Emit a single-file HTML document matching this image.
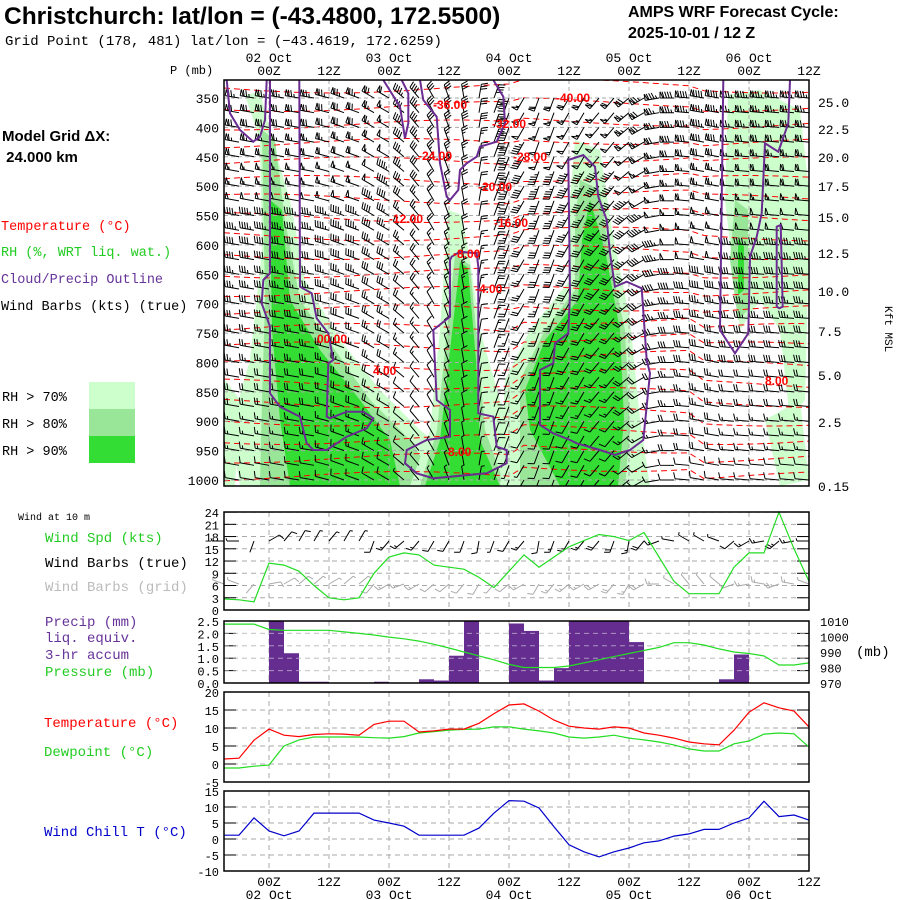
<!DOCTYPE html>
<html><head><meta charset="utf-8">
<style>
body{margin:0;background:#fff;width:900px;height:900px;overflow:hidden}
svg{display:block}
text{font-family:"Liberation Mono",monospace}
</style></head>
<body>
<svg id="c" width="900" height="900" viewBox="0 0 900 900" xmlns="http://www.w3.org/2000/svg">
<text x="4" y="24" style="font-family:'Liberation Sans',sans-serif;font-weight:bold;font-size:24.5px">Christchurch:  lat/lon = (-43.4800, 172.5500)</text>
<text x="5" y="45" font-size="14">Grid Point (178, 481) lat/lon = (−43.4619, 172.6259)</text>
<text x="628" y="17" style="font-family:'Liberation Sans',sans-serif;font-weight:bold;font-size:16px">AMPS WRF Forecast Cycle:</text>
<text x="628" y="38" style="font-family:'Liberation Sans',sans-serif;font-weight:bold;font-size:16px">2025-10-01 / 12  Z</text>
<text x="170" y="74" font-size="12">P (mb)</text>
<text x="2" y="141" style="font-family:'Liberation Sans',sans-serif;font-weight:bold;font-size:15px">Model Grid ΔX:</text>
<text x="2" y="162" style="font-family:'Liberation Sans',sans-serif;font-weight:bold;font-size:15px">&#160;24.000 km</text>
<text x="1" y="230" font-size="13.5" fill="#ff0000">Temperature (°C)</text>
<text x="1" y="256" font-size="13.5" fill="#22cc22">RH (%, WRT liq. wat.)</text>
<text x="1" y="283" font-size="13.5" fill="#663399">Cloud/Precip Outline</text>
<text x="1" y="310" font-size="13.5" fill="#000">Wind Barbs (kts) (true)</text>
<rect x="89" y="382" width="46" height="27" fill="#ccffcc"/>
<rect x="89" y="409" width="46" height="27" fill="#99e699"/>
<rect x="89" y="436" width="46" height="27" fill="#33dd33"/>
<text x="2" y="401" font-size="13.5">RH &gt; 70%</text>
<text x="2" y="428" font-size="13.5">RH &gt; 80%</text>
<text x="2" y="455" font-size="13.5">RH &gt; 90%</text>
<text x="18" y="520" font-size="10">Wind at 10 m</text>
<text x="45" y="542" font-size="14" fill="#22cc22">Wind Spd (kts)</text>
<text x="45" y="567" font-size="14" fill="#000">Wind Barbs (true)</text>
<text x="45" y="591" font-size="14" fill="#bbbbbb">Wind Barbs (grid)</text>
<text x="45" y="626" font-size="14" fill="#663399">Precip (mm)</text>
<text x="45" y="642" font-size="14" fill="#663399">liq. equiv.</text>
<text x="45" y="659" font-size="14" fill="#663399">3-hr accum</text>
<text x="45" y="676" font-size="14" fill="#22cc22">Pressure (mb)</text>
<text x="856" y="656" font-size="14">(mb)</text>
<text x="44" y="727" font-size="14" fill="#ff0000">Temperature (°C)</text>
<text x="44" y="756" font-size="14" fill="#22cc22">Dewpoint (°C)</text>
<text x="44" y="836" font-size="14" fill="#0000cc">Wind Chill T (°C)</text>
<text x="0" y="0" font-size="11" transform="translate(885,306) rotate(90)">Kft MSL</text>
<g id="g"></g>
</svg>
<script>
// ---- data ----
const hours = []; for (let i=0;i<40;i++) hours.push(i*3); // hours since 01 Oct 15Z
const windSpd = [2.7,2.5,2,11.5,11,9.5,6,3,2.5,3,9,13,14,13.5,11,10.5,10,8,5.5,9.5,13.5,10.5,13,15.5,17,18.5,18,17,19,13,7,4,4,4,10.5,14,14,24,15,7];
const precip = [0,0,0,2.5,1.2,0.05,0.05,0,0,0,0.05,0,0,0.15,0.1,1.1,2.5,0,0,2.4,2.1,0.1,0.6,2.5,2.5,2.5,2.5,1.65,0,0,0,0,0,0.15,1.15,0,0,0,0];
const pressure = [1008,1008,1008,1004.5,1004,1004,1004,1004,1003,1002,1001,999.6,998.5,997,995,992.6,990,987.5,985,982,980,980,980,981,983,985,987,989,991,993,996,996,994.5,992,990,989,987.5,981.6,981.6,983];
const temp2m = [1.4,1.6,6.6,9.7,8,7.6,8.2,8.4,8.3,8,11,11.9,11.9,8.9,9.2,9.7,9.7,11.3,14,16.4,16.7,14.7,12.2,10.5,10,9.7,10.3,10,8.6,8,7.2,6.1,5.6,5.3,9.4,14.4,17,15.6,14.7,10.3];
const dewpt = [-1.1,-1.1,-0.6,-0.3,5,6.7,7.5,7.5,7.5,7.5,7.3,7.2,7.6,8.6,9,9.4,9.6,9.7,10.3,10.3,9.7,9.2,8.6,7.5,7.2,7.5,8,7.2,6.7,6.1,5.3,4.2,3.6,3.6,5.6,6.4,8.3,8.6,8.4,4.7];
const windChill = [1.2,1.2,6.6,2.5,1,2.5,8.1,8.1,8.1,8.1,5.9,5,4,1.2,1.2,1.2,1.2,3.4,8.1,12,11.8,9.7,3.8,-1.8,-4,-5.6,-4,-2.8,-1.2,-0.6,0.9,1.6,3,3,5,6.6,11.8,7,7.5,5.9];
const sfcDir = [270,270,200,60,40,30,30,40,30,30,200,220,230,220,210,210,200,190,200,210,220,190,200,210,220,220,200,190,220,250,280,300,300,290,230,240,260,230,260,270];
const levels = [350,375,400,425,450,475,500,525,550,575,600,625,650,675,700,725,750,775,800,825,850,875,900,925,950,975,1000];
const levSpd = [75,70,70,65,60,55,55,50,45,45,40,40,35,35,30,30,25,25,25,20,20,20,15,15,15,10,10];
const colDir = [280,280,280,280,280,280,280,285,290,290,300,300,310,320,330,340,350,10,20,200,210,200,200,210,210,220,220,230,240,260,270,275,280,280,275,275,275,275,275,275];
const colFac = [1,1,1,1,1,1,1,1,1,1,0.9,0.8,0.6,0.5,0.4,0.4,0.4,0.4,0.5,0.6,0.7,0.8,0.8,0.8,0.8,0.8,0.8,0.9,1,1.1,1.2,1.2,1.2,1.2,1.1,1.1,1.1,1.1,1.1,1.1];
const topTimes = [["02 Oct","00Z"],["","12Z"],["03 Oct","00Z"],["","12Z"],["04 Oct","00Z"],["","12Z"],["05 Oct","00Z"],["","12Z"],["06 Oct","00Z"],["","12Z"]];
const pLabels = [350,400,450,500,550,600,650,700,750,800,850,900,950,1000];
const kftLabels = [["25.0",102],["22.5",129],["20.0",157],["17.5",186],["15.0",217],["12.5",253],["10.0",291],["7.5",331],["5.0",375],["2.5",422],["0.15",486]];
const tempContourLabels = [["-40.00",556,102],["-36.00",433,109],["-32.00",492,128],["-28.00",513,161],["-24.00",418,160],["-20.00",478,191],["-16.00",494,227],["-12.00",389,223],["-8.00",453,258],["-4.00",475,293],["00.00",317,343],["4.00",373,375],["8.00",448,456],["8.00",765,385]];

const NS="http://www.w3.org/2000/svg";
const G=document.getElementById('g');
function el(t,a,p){const e=document.createElementNS(NS,t);for(const k in a)e.setAttribute(k,a[k]);(p||G).appendChild(e);return e;}
const X0=224,X1=809;
const xh=h=>X0+5*h;
const yp=p=>98+(p-350)*0.5877;
const LX=[269,329,389,449,509,569,629,689,749,809];

// ---- main panel ----
const main=el('g',{});


const cp=el('clipPath',{id:'mc'});el('rect',{x:X0,y:80,width:X1-X0,height:406},cp);
const mg=el('g',{'clip-path':'url(#mc)'},main);
function poly(pts,fill,name,par){const e=el('polygon',{points:pts.map(p=>p.join(',')).join(' '),fill:fill},par);return e;}
const L='#ccffcc',M='#99e699',D='#33dd33';
poly([[245,95],[260,92],[275,150],[290,200],[305,280],[340,340],[380,390],[420,430],[470,470],[520,486],[240,486],[230,430],[250,360],[262,250],[260,140]],L,'rh70-region-left',mg);
poly([[225,380],[240,400],[235,486],[224,486]],L,'rh70-region-edge',mg);
poly([[262,130],[275,140],[285,220],[300,300],[335,350],[370,400],[410,440],[440,486],[260,486],[262,400],[265,300]],M,'rh80-region-left',mg);
poly([[270,200],[282,210],[290,300],[320,350],[360,400],[390,440],[400,486],[290,486],[280,420],[272,330]],D,'rh90-region-left',mg);
poly([[448,210],[462,215],[470,260],[480,330],[500,400],[520,450],[530,486],[410,486],[430,430],[440,330]],L,'rh70-region-center',mg);
poly([[455,255],[470,265],[478,350],[485,430],[505,486],[420,486],[437,430],[447,330]],M,'rh80-region-center',mg);
poly([[460,262],[468,268],[476,360],[480,440],[500,486],[425,486],[440,440],[450,350]],D,'rh90-region-center',mg);
poly([[575,140],[600,150],[612,230],[630,320],[640,420],[650,486],[500,486],[505,380],[530,330],[570,280],[570,200]],L,'rh70-region-right',mg);
poly([[580,180],[600,190],[610,260],[625,330],[630,430],[625,486],[520,486],[520,380],[545,330],[575,290],[575,220]],M,'rh80-region-right',mg);
poly([[590,200],[605,250],[620,330],[624,420],[618,486],[560,486],[530,430],[525,390],[545,340],[578,300],[582,240]],D,'rh90-region-right',mg);
poly([[728,95],[760,90],[800,110],[810,200],[805,400],[790,420],[780,330],[760,300],[740,330],[725,200]],L,'rh70-region-far-right',mg);
poly([[735,200],[748,210],[748,310],[738,320],[730,260]],M,'rh80-region-far-right',mg);
poly([[738,240],[744,245],[744,290],[738,295]],D,'rh90-region-far-right',mg);
poly([[765,420],[800,400],[809,480],[780,486]],L,'rh70-region-low-right',mg);
for(let k=0;k<22;k++){
  let d='';const base=88+k*18.5;
  for(let x=X0;x<=X1;x+=15){const w=Math.sin((x-X0)/70+k*0.7)*5+((x>520&&x<700)?-(k>12?10:4):0);d+=(x===X0?'M':'L')+x+','+(base+w).toFixed(1);}
  const e=el('path',{d:d,fill:'none',stroke:'#ff0000','stroke-width':1,'stroke-dasharray':'6,4'},mg);
  
  
}
for(const p of pLabels){const e=el('line',{x1:X0,x2:X1,y1:yp(p),y2:yp(p),stroke:'#aaaaaa','stroke-dasharray':'4,3'},mg);}
for(const x of LX){const e=el('line',{x1:x,x2:x,y1:80,y2:486,stroke:'#aaaaaa','stroke-dasharray':'4,3'},mg);}
function barb(par,x,y,dir,spd,len,col,sw){
  const r=dir*Math.PI/180;const ux=Math.sin(r),uy=-Math.cos(r);
  const tx=x+ux*len,ty=y+uy*len;const px=-uy,py=ux;
  let d=`M${x},${y}L${tx.toFixed(1)},${ty.toFixed(1)}`;
  let s=Math.round(spd/5)*5,pos=0;const bl=len*0.45;
  while(s>=50){const ax=tx-ux*pos,ay=ty-uy*pos;d+=`M${ax.toFixed(1)},${ay.toFixed(1)}L${(ax+px*bl).toFixed(1)},${(ay+py*bl).toFixed(1)}L${(ax-ux*3).toFixed(1)},${(ay-uy*3).toFixed(1)}`;pos+=4;s-=50;}
  while(s>=10){const ax=tx-ux*pos,ay=ty-uy*pos;d+=`M${ax.toFixed(1)},${ay.toFixed(1)}L${(ax+px*bl+ux*2).toFixed(1)},${(ay+py*bl+uy*2).toFixed(1)}`;pos+=2.6;s-=10;}
  if(s>=5){const ax=tx-ux*pos,ay=ty-uy*pos;d+=`M${ax.toFixed(1)},${ay.toFixed(1)}L${(ax+px*bl/2+ux).toFixed(1)},${(ay+py*bl/2+uy).toFixed(1)}`;}
  const e=el('path',{d:d,fill:'none',stroke:col,'stroke-width':sw},par);
  
  
}
for(let j=0;j<levels.length;j++)for(let i=1;i<hours.length;i++){
  barb(mg,xh(hours[i]),yp(levels[j]),colDir[i],levSpd[j]*colFac[i],14,'#000',1);
}
function z4(a){return a.map(p=>[220+p[0]/3,80+p[1]/3]);}
function z5(a){return a.map(p=>[510+p[0]/3,80+p[1]/3]);}
function outline(pts,name,closed){const e=el(closed?'polygon':'polyline',{points:pts.map(p=>p[0].toFixed(1)+','+p[1].toFixed(1)).join(' '),fill:'none',stroke:'#6a2c91','stroke-width':2},mg);}
outline(z4([[150,0],[150,580],[130,600],[125,670],[150,740],[150,940],[180,980],[240,1010],[260,1090],[280,1110],[320,1110],[380,1070],[440,1045],[460,1015],[430,995],[380,995],[330,1015],[320,1010],[325,850],[340,840],[325,760],[290,715],[275,640],[240,620],[238,0]]),'cloud-outline-left',false);
outline(z4([[20,0],[30,100],[60,150],[100,185],[120,170],[135,120],[140,0]]),'cloud-outline-top-left',false);
outline(z4([[490,0],[540,80],[555,175],[565,130],[565,40],[545,0]]),'cloud-outline-top-mid',false);
outline(z4([[600,0],[610,60],[650,110],[660,250],[680,350],[690,360],[715,330],[720,270],[740,250],[770,230],[780,200],[830,185],[855,130],[850,50],[820,0]]),'cloud-outline-top',false);
outline(z4([[695,530],[720,515],[770,520],[775,560],[775,1000],[820,1010],[830,1100],[860,1110],[860,1150],[800,1180],[640,1195],[590,1180],[555,1150],[560,1110],[620,1080],[690,1070],[690,990],[650,960],[640,750],[690,710],[690,540]]),'cloud-outline-center',true);
outline(z5([[175,240],[220,225],[255,260],[265,350],[290,420],[300,520],[315,620],[350,605],[395,625],[410,840],[420,880],[400,1080],[360,1110],[315,1125],[270,1110],[200,1090],[180,1080],[130,1060],[90,1035],[90,870],[130,850],[135,790],[175,760],[180,640]]),'cloud-outline-right',true);
outline(z5([[640,0],[630,750],[675,820],[715,760],[720,530],[740,470],[755,400],[765,190],[805,215],[835,130],[840,0]]),'cloud-outline-far-right',false);
outline(z5([[800,440],[812,435],[818,680],[808,685],[800,680]]),'cloud-outline-narrow',true);
for(const t of tempContourLabels){const e=el('text',{x:t[1],y:t[2],fill:'#ff0000','font-size':12,'font-weight':'bold',style:'font-family:Liberation Sans,sans-serif'},mg);e.textContent=t[0];}
{const e=el('rect',{x:X0,y:80,width:X1-X0,height:406,fill:'none',stroke:'#000','stroke-width':1.5},main);}
for(const p of pLabels){const e=el('text',{x:219,y:yp(p)+5,'font-size':13,'text-anchor':'end'},main);e.textContent=p;}
for(const k of kftLabels){const e=el('text',{x:818,y:k[1]+5,'font-size':13},main);e.textContent=k[0];}
topTimes.forEach((t,i)=>{
  const a=el('text',{x:LX[i],y:75,'font-size':13,'text-anchor':'middle'});a.textContent=t[1];
  if(t[0]){const b=el('text',{x:LX[i],y:62,'font-size':13,'text-anchor':'middle'});b.textContent=t[0];}
  const c=el('text',{x:LX[i],y:886,'font-size':13,'text-anchor':'middle'});c.textContent=t[1];
  if(t[0]){const d=el('text',{x:LX[i],y:899,'font-size':13,'text-anchor':'middle'});d.textContent=t[0];}
});

function panel(name,y0,y1,ticks,yf){
  const g=el('g',{});
  for(const t of ticks){const y=yf(t);
    const e=el('line',{x1:X0,x2:X1,y1:y,y2:y,stroke:'#aaaaaa','stroke-dasharray':'5,4'},g);
    el('line',{x1:X0,x2:X0+12,y1:y,y2:y,stroke:'#000'},g);el('line',{x1:X1-12,x2:X1,y1:y,y2:y,stroke:'#000'},g);
    const l=el('text',{x:219,y:y+5,'font-size':12,'text-anchor':'end'},g);l.textContent=t;}
  for(const x of LX){const e=el('line',{x1:x,x2:x,y1:y0,y2:y1,stroke:'#aaaaaa','stroke-dasharray':'5,4'},g);}
  return g;
}
function frame(g,y0,y1){const e=el('rect',{x:X0,y:y0,width:X1-X0,height:y1-y0,fill:'none',stroke:'#000','stroke-width':1.5},g);}
function line(g,vals,yf,col,name){const e=el('polyline',{points:vals.map((v,i)=>xh(hours[i])+','+yf(v).toFixed(1)).join(' '),fill:'none',stroke:col,'stroke-width':1.2},g);}
const yw=v=>610-v*4.08;
const gw=panel('wind10m-panel',512,610,[0,3,6,9,12,15,18,21,24],yw);
for(let i=0;i<hours.length;i++){
  barb(gw,xh(hours[i]),541,sfcDir[i],windSpd[i],12,'#000',1);
  barb(gw,xh(hours[i]),584,(sfcDir[i]+20)%360,windSpd[i],12,'#aaaaaa',1);
}
line(gw,windSpd,yw,'#22dd22','wind-speed-line');
frame(gw,512,610);
const ypr=v=>683-v*24.8, ypp=v=>683-(v-970)*1.55;
const gp=panel('precip-pressure-panel',621,683,['0.0','0.5','1.0','1.5','2.0','2.5'],v=>ypr(+v));
for(let i=0;i<precip.length;i++){if(precip[i]<=0)continue;
  const v=Math.min(precip[i],2.5);const e=el('rect',{x:xh(hours[i]),y:ypr(v),width:15,height:683-ypr(v),fill:'#662d91'},gp);
  
  }
for(const t of [0.5,1,1.5,2]){el('line',{x1:X0,x2:X1,y1:ypr(t),y2:ypr(t),stroke:'#dddddd','stroke-dasharray':'5,4','stroke-opacity':0.6},gp);}
line(gp,pressure,ypp,'#22dd22','pressure-line');
for(const t of [970,980,990,1000,1010]){const l=el('text',{x:820,y:ypp(t)+5,'font-size':12},gp);l.textContent=t;}
frame(gp,621,683);
const yt=v=>764-v*3.6;
const gt=panel('temperature-panel',692,782,[-5,0,5,10,15,20],yt);
line(gt,dewpt,yt,'#22dd22','dewpoint-line');
line(gt,temp2m,yt,'#ff0000','temperature-line');
frame(gt,692,782);
const yc=v=>839-v*3.2;
const gc=panel('windchill-panel',791,871,[-10,-5,0,5,10,15],yc);
line(gc,windChill,yc,'#0000cc','windchill-line');
frame(gc,791,871);
</script>
</body></html>
